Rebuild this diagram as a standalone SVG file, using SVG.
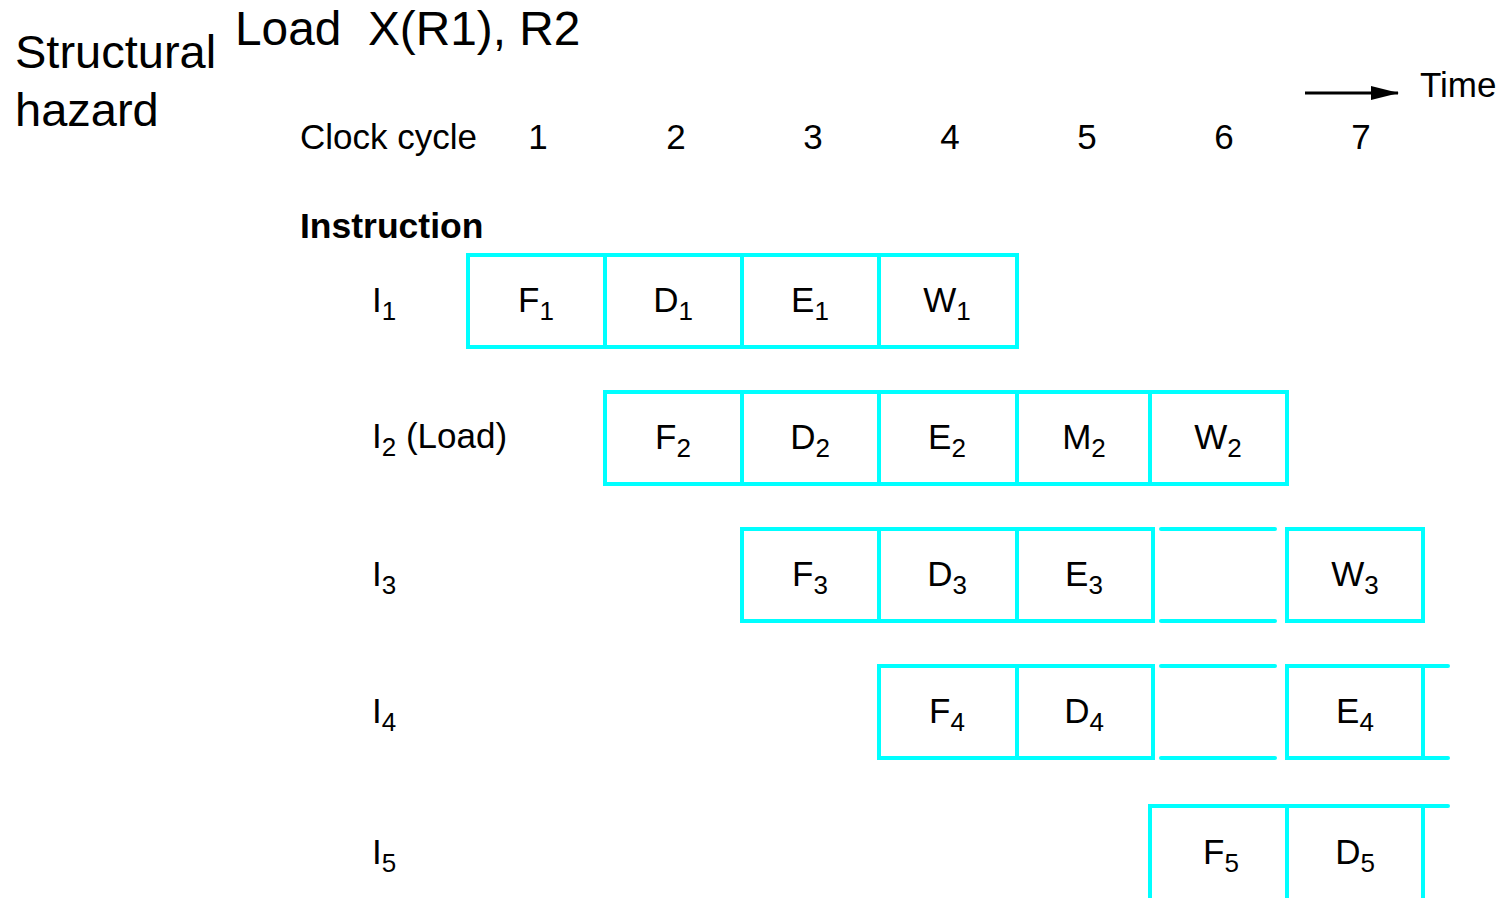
<svg xmlns="http://www.w3.org/2000/svg" width="1503" height="898" viewBox="0 0 1503 898">
<style>
text{font-family:"Liberation Sans",Arial,sans-serif;fill:#000}
.t{font-size:47px}
.m{font-size:35px}
.b{font-size:35.5px;font-weight:bold}
.c{font-size:35px;text-anchor:middle}
.s{font-size:26px}
.box{fill:none;stroke:#00FFFF;stroke-width:4}
.ln{stroke:#00FFFF;stroke-width:4;fill:none;stroke-linecap:round}
</style>
<defs>
<marker id="ah" markerWidth="28" markerHeight="16" refX="27" refY="8" orient="auto" markerUnits="userSpaceOnUse" viewBox="0 0 28 16">
<path d="M0,1 L28,8 L0,15 z" fill="#000"/>
</marker>
</defs>
<g id="titles">
<text class="t" x="15" y="68">Structural</text>
<text class="t" x="15" y="126">hazard</text>
<text class="t" x="235" y="45" xml:space="preserve" style="font-size:47.8px">Load  X(R1), R2</text>
</g>
<g id="axis">
<text class="m" x="300" y="149">Clock cycle</text>
<text class="c" x="538" y="149">1</text>
<text class="c" x="676" y="149">2</text>
<text class="c" x="813" y="149">3</text>
<text class="c" x="950" y="149">4</text>
<text class="c" x="1087" y="149">5</text>
<text class="c" x="1224" y="149">6</text>
<text class="c" x="1361" y="149">7</text>
<text class="m" x="1420" y="97">Time</text>
<text class="b" x="300" y="238">Instruction</text>
</g>
<g id="connectors">
<line x1="1305" y1="93" x2="1398" y2="93" stroke="#000" stroke-width="3" marker-end="url(#ah)"/>
</g>
<g id="labels">
<text class="m" x="372" y="312">I<tspan class="s" dy="8">1</tspan></text>
<text class="m" x="372" y="448">I<tspan class="s" dy="8">2</tspan><tspan dy="-8"> (Load)</tspan></text>
<text class="m" x="372" y="586">I<tspan class="s" dy="8">3</tspan></text>
<text class="m" x="372" y="723">I<tspan class="s" dy="8">4</tspan></text>
<text class="m" x="372" y="864">I<tspan class="s" dy="8">5</tspan></text>
</g>
<g id="row1">
<rect class="box" x="468" y="255" width="137" height="92"/>
<rect class="box" x="605" y="255" width="137" height="92"/>
<rect class="box" x="742" y="255" width="137" height="92"/>
<rect class="box" x="879" y="255" width="138" height="92"/>
<text class="c" x="536" y="312">F<tspan class="s" dy="8">1</tspan></text>
<text class="c" x="673" y="312">D<tspan class="s" dy="8">1</tspan></text>
<text class="c" x="810" y="312">E<tspan class="s" dy="8">1</tspan></text>
<text class="c" x="947" y="312">W<tspan class="s" dy="8">1</tspan></text>
</g>
<g id="row2">
<rect class="box" x="605" y="392" width="137" height="92"/>
<rect class="box" x="742" y="392" width="137" height="92"/>
<rect class="box" x="879" y="392" width="138" height="92"/>
<rect class="box" x="1017" y="392" width="133" height="92"/>
<rect class="box" x="1150" y="392" width="137" height="92"/>
<text class="c" x="673" y="449">F<tspan class="s" dy="8">2</tspan></text>
<text class="c" x="810" y="449">D<tspan class="s" dy="8">2</tspan></text>
<text class="c" x="947" y="449">E<tspan class="s" dy="8">2</tspan></text>
<text class="c" x="1084" y="449">M<tspan class="s" dy="8">2</tspan></text>
<text class="c" x="1218" y="449">W<tspan class="s" dy="8">2</tspan></text>
</g>
<g id="row3">
<rect class="box" x="742" y="529" width="137" height="92"/>
<rect class="box" x="879" y="529" width="138" height="92"/>
<rect class="box" x="1017" y="529" width="136" height="92"/>
<line class="ln" x1="1161" y1="529" x2="1275" y2="529"/>
<line class="ln" x1="1161" y1="621" x2="1275" y2="621"/>
<rect class="box" x="1287" y="529" width="136" height="92"/>
<text class="c" x="810" y="586">F<tspan class="s" dy="8">3</tspan></text>
<text class="c" x="947" y="586">D<tspan class="s" dy="8">3</tspan></text>
<text class="c" x="1084" y="586">E<tspan class="s" dy="8">3</tspan></text>
<text class="c" x="1355" y="586">W<tspan class="s" dy="8">3</tspan></text>
</g>
<g id="row4">
<rect class="box" x="879" y="666" width="138" height="92"/>
<rect class="box" x="1017" y="666" width="136" height="92"/>
<line class="ln" x1="1161" y1="666" x2="1275" y2="666"/>
<line class="ln" x1="1161" y1="758" x2="1275" y2="758"/>
<rect class="box" x="1287" y="666" width="136" height="92"/>
<line class="ln" x1="1423" y1="666" x2="1448" y2="666"/>
<line class="ln" x1="1423" y1="758" x2="1448" y2="758"/>
<text class="c" x="947" y="723">F<tspan class="s" dy="8">4</tspan></text>
<text class="c" x="1084" y="723">D<tspan class="s" dy="8">4</tspan></text>
<text class="c" x="1355" y="723">E<tspan class="s" dy="8">4</tspan></text>
</g>
<g id="row5">
<rect class="box" x="1150" y="806" width="137" height="94"/>
<rect class="box" x="1287" y="806" width="136" height="94"/>
<line class="ln" x1="1423" y1="806" x2="1448" y2="806"/>
<text class="c" x="1221" y="864">F<tspan class="s" dy="8">5</tspan></text>
<text class="c" x="1355" y="864">D<tspan class="s" dy="8">5</tspan></text>
</g>
</svg>
